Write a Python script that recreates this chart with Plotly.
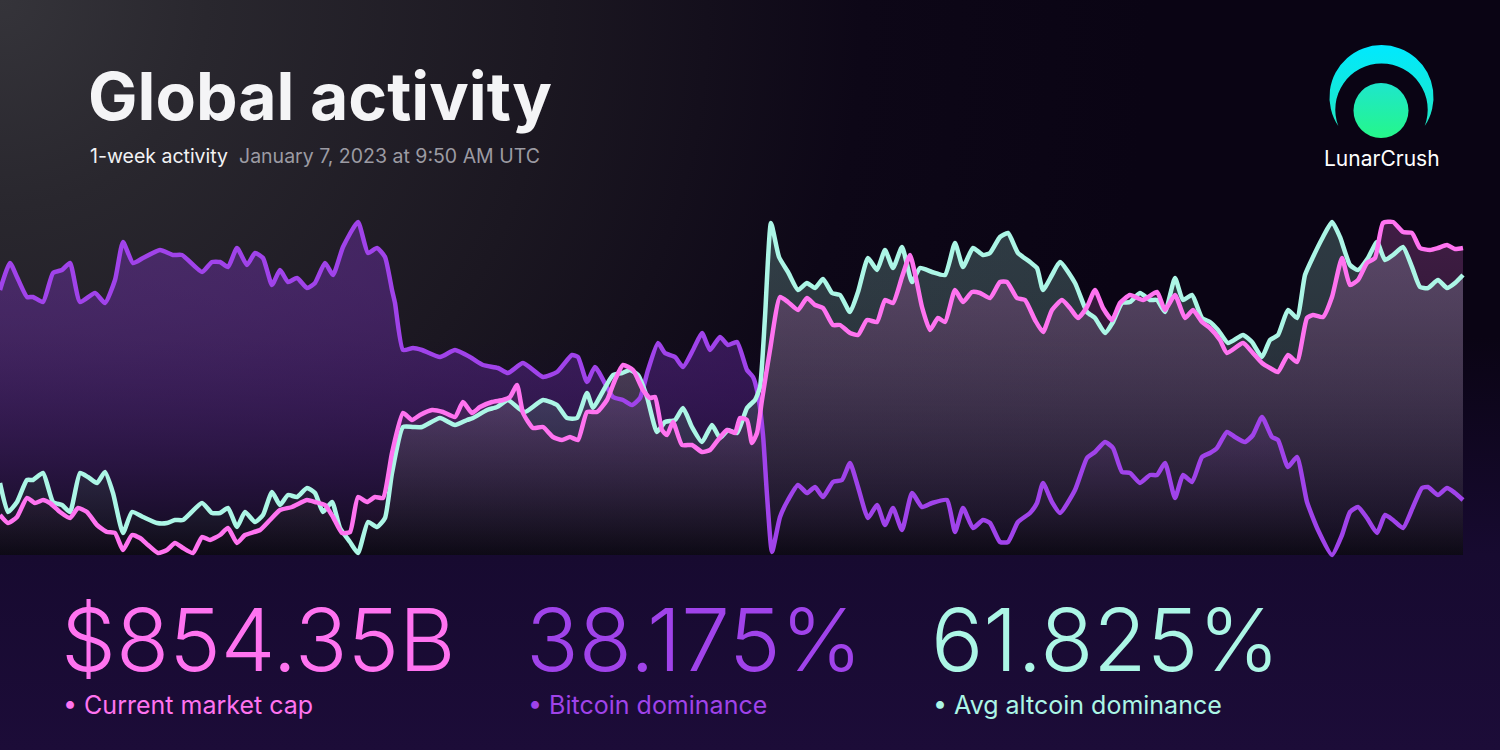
import base64
import plotly.graph_objects as go

# Series: t = time step along the week, v = normalized level
btc_t = [0, 10, 17, 27, 33, 43, 53, 62, 70, 80,
         95, 105, 115, 123, 133, 143, 160, 173, 182, 202,
         212, 220, 228, 237, 247, 255, 263, 272, 280, 288,
         297, 307, 315, 325, 333, 343, 358, 368, 377, 385,
         392, 395, 403, 413, 422, 440, 455, 470, 483, 498,
         508, 523, 543, 557, 572, 578, 587, 595, 613, 623,
         632, 640, 648, 658, 665, 675, 683, 693, 702, 710,
         720, 728, 737, 747, 753, 758, 763, 767, 772, 780,
         788, 798, 807, 815, 823, 833, 842, 850, 858, 868,
         877, 885, 893, 902, 912, 922, 932, 947, 955, 963,
         973, 983, 990, 1000, 1008, 1018, 1030, 1037, 1043, 1052,
         1060, 1075, 1087, 1095, 1105, 1113, 1122, 1130, 1140, 1150,
         1157, 1165, 1175, 1183, 1192, 1202, 1210, 1217, 1227, 1235,
         1245, 1253, 1262, 1272, 1278, 1288, 1297, 1307, 1318, 1332,
         1342, 1350, 1358, 1367, 1377, 1385, 1393, 1403, 1413, 1422,
         1428, 1438, 1447, 1455, 1463]
btc_v = [265, 292, 278, 258, 258, 253, 282, 285, 292, 253,
         262, 252, 275, 313, 292, 297, 305, 300, 300, 283,
         293, 293, 288, 307, 290, 302, 297, 270, 285, 273,
         277, 267, 272, 292, 280, 308, 333, 302, 307, 298,
         265, 252, 205, 207, 205, 198, 205, 198, 190, 187,
         182, 192, 178, 183, 200, 198, 173, 188, 158, 155,
         150, 157, 185, 212, 202, 198, 188, 205, 222, 205,
         218, 210, 213, 185, 178, 160, 120, 60, 3, 38,
         55, 70, 62, 68, 58, 73, 75, 92, 68, 37,
         50, 30, 47, 25, 62, 48, 52, 55, 23, 47,
         27, 35, 32, 13, 13, 33, 42, 52, 72, 53,
         42, 65, 97, 103, 113, 107, 83, 82, 72, 80,
         80, 92, 57, 80, 73, 98, 102, 107, 123, 118,
         113, 120, 138, 118, 115, 88, 98, 53, 25, 0,
         20, 43, 48, 37, 22, 40, 35, 27, 48, 67,
         68, 60, 67, 62, 55]

mcap_t = [0, 8, 17, 27, 35, 43, 50, 60, 70, 78,
          87, 97, 107, 115, 123, 132, 140, 148, 158, 167,
          175, 183, 193, 202, 210, 220, 228, 237, 245, 260,
          270, 280, 292, 307, 315, 325, 333, 342, 350, 358,
          367, 375, 383, 392, 403, 412, 420, 432, 443, 455,
          463, 472, 480, 492, 503, 510, 517, 523, 533, 543,
          553, 562, 570, 578, 587, 597, 607, 615, 623, 633,
          643, 650, 655, 662, 667, 673, 682, 692, 702, 710,
          718, 727, 735, 740, 747, 752, 757, 762, 770, 780,
          788, 798, 807, 815, 823, 833, 840, 850, 858, 867,
          877, 885, 893, 902, 910, 917, 922, 930, 938, 945,
          955, 963, 972, 980, 990, 1000, 1007, 1017, 1025, 1035,
          1043, 1052, 1062, 1070, 1078, 1087, 1095, 1103, 1112, 1120,
          1130, 1143, 1157, 1165, 1175, 1185, 1193, 1202, 1210, 1220,
          1227, 1243, 1252, 1262, 1270, 1278, 1288, 1297, 1307, 1313,
          1323, 1332, 1342, 1350, 1358, 1367, 1375, 1383, 1393, 1403,
          1412, 1420, 1430, 1438, 1447, 1455, 1463]
mcap_v = [40, 32, 38, 57, 52, 55, 52, 43, 37, 47,
          43, 30, 23, 22, 5, 20, 17, 10, 2, 5,
          12, 7, 2, 18, 15, 20, 27, 12, 20, 25,
          35, 45, 48, 55, 53, 50, 38, 22, 23, 58,
          53, 58, 57, 102, 142, 135, 140, 145, 143, 138,
          153, 142, 148, 153, 155, 158, 170, 142, 127, 128,
          118, 115, 118, 115, 143, 143, 155, 175, 190, 185,
          165, 157, 158, 125, 120, 133, 110, 110, 103, 105,
          115, 125, 122, 137, 135, 112, 122, 155, 205, 258,
          253, 245, 257, 250, 247, 230, 230, 222, 220, 235,
          233, 255, 252, 278, 300, 272, 248, 225, 237, 233,
          265, 253, 263, 262, 257, 273, 273, 257, 255, 235,
          223, 245, 255, 247, 237, 248, 265, 247, 235, 252,
          260, 255, 263, 245, 260, 237, 245, 233, 227, 215,
          202, 212, 203, 192, 187, 183, 200, 193, 237, 240,
          238, 258, 297, 270, 275, 292, 297, 332, 333, 323,
          322, 307, 305, 307, 310, 306, 307]

alt_t = [0, 8, 17, 27, 33, 43, 53, 62, 70, 80,
         88, 97, 105, 113, 123, 132, 143, 157, 167, 175,
         183, 202, 212, 220, 228, 237, 245, 255, 263, 272,
         280, 288, 297, 307, 315, 323, 332, 340, 350, 358,
         368, 377, 385, 392, 403, 413, 422, 440, 455, 467,
         473, 487, 497, 508, 517, 525, 543, 557, 567, 577,
         587, 593, 602, 613, 622, 630, 638, 647, 657, 665,
         675, 683, 692, 702, 712, 720, 728, 737, 747, 755,
         760, 765, 771, 779, 788, 798, 807, 815, 823, 832,
         840, 850, 858, 868, 877, 885, 893, 902, 912, 920,
         932, 945, 955, 963, 973, 983, 990, 1000, 1008, 1018,
         1030, 1037, 1043, 1052, 1060, 1075, 1087, 1095, 1105, 1113,
         1122, 1130, 1140, 1150, 1157, 1165, 1175, 1183, 1192, 1202,
         1210, 1218, 1228, 1243, 1252, 1262, 1270, 1278, 1288, 1297,
         1305, 1313, 1323, 1332, 1340, 1350, 1358, 1368, 1377, 1385,
         1393, 1403, 1412, 1420, 1428, 1438, 1447, 1455, 1463]
alt_v = [72, 43, 53, 75, 75, 82, 53, 50, 43, 82,
         78, 72, 83, 62, 22, 43, 38, 32, 32, 35,
         35, 52, 42, 42, 47, 28, 43, 33, 40, 63,
         50, 60, 58, 67, 62, 43, 53, 27, 13, 2,
         33, 28, 37, 82, 128, 128, 128, 137, 130, 135,
         137, 145, 148, 155, 148, 143, 155, 150, 137, 137,
         162, 147, 162, 180, 182, 185, 180, 158, 123, 133,
         135, 147, 128, 113, 130, 117, 125, 122, 147, 155,
         168, 238, 332, 298, 283, 265, 272, 267, 276, 262,
         260, 243, 263, 297, 285, 305, 287, 308, 273, 287,
         283, 280, 312, 288, 307, 300, 302, 318, 322, 302,
         293, 287, 265, 280, 293, 272, 243, 237, 222, 233,
         252, 253, 262, 255, 255, 243, 277, 255, 260, 237,
         233, 225, 212, 220, 213, 198, 215, 220, 245, 237,
         280, 298, 318, 333, 318, 290, 285, 297, 313, 295,
         300, 308, 288, 268, 267, 275, 267, 272, 280]

stat_values = ["$854.35B", "38.175%", "61.825%"]
stat_labels = ["Current market cap", "Bitcoin dominance", "Avg altcoin dominance"]

PINK = "#ff73f0"
PURPLE = "#a043ea"
CYAN = "#acf6e6"
FONT = "Inter, Roboto, sans-serif"

# background: grey glow top-left, deep purple at the bottom, logo
bg_svg = """<svg xmlns="http://www.w3.org/2000/svg" width="1500" height="750" viewBox="0 0 1500 750">
<defs>
<radialGradient id="bg" cx="0" cy="0" r="1150" gradientUnits="userSpaceOnUse">
<stop offset="0" stop-color="#35343a"/>
<stop offset="0.18" stop-color="#29272e"/>
<stop offset="0.48" stop-color="#1b1721"/>
<stop offset="0.75" stop-color="#0d0717"/>
<stop offset="1" stop-color="#0a0414"/>
</radialGradient>
<linearGradient id="low" x1="0" y1="0" x2="0" y2="750" gradientUnits="userSpaceOnUse">
<stop offset="0.45" stop-color="#170a30" stop-opacity="0"/>
<stop offset="0.74" stop-color="#170a30" stop-opacity="1"/>
<stop offset="1" stop-color="#1c0c38" stop-opacity="1"/>
</linearGradient>
<linearGradient id="arc" x1="0" y1="45" x2="0" y2="126" gradientUnits="userSpaceOnUse">
<stop offset="0" stop-color="#00e9ff"/><stop offset="1" stop-color="#1fe8c4"/>
</linearGradient>
<linearGradient id="ball" x1="0" y1="83" x2="0" y2="138" gradientUnits="userSpaceOnUse">
<stop offset="0" stop-color="#1ee6cc"/><stop offset="1" stop-color="#25f78a"/>
</linearGradient>
</defs>
<rect width="1500" height="750" fill="url(#bg)"/>
<rect width="1500" height="750" fill="url(#low)"/>
<path d="M1338.3 126 A52 52 0 1 1 1424.7 126 A46.2 46.2 0 1 0 1338.3 126 Z" fill="url(#arc)"/>
<circle cx="1381" cy="110.5" r="27.5" fill="url(#ball)"/>
</svg>"""
bg_uri = "data:image/svg+xml;base64," + base64.b64encode(bg_svg.encode()).decode()

fig = go.Figure()

series = [
    (btc_t, btc_v, PURPLE, "rgba(150,60,235,0.30)", "rgba(12,9,20,0.75)"),
    (alt_t, alt_v, CYAN, "rgba(170,245,228,0.22)", "rgba(12,10,18,0.45)"),
    (mcap_t, mcap_v, PINK, "rgba(255,120,240,0.22)", "rgba(12,10,18,0.30)"),
]

# fills first
for t, v, col, top, bottom in series:
    fig.add_trace(go.Scatter(
        x=t, y=v, mode="lines",
        line=dict(width=0, shape="spline", smoothing=0.5),
        fill="tozeroy",
        fillgradient=dict(type="vertical", colorscale=[[0, bottom], [1, top]], start=0, stop=335),
        hoverinfo="skip", showlegend=False
    ))

# then the lines on top
for t, v, col, top, bottom in series:
    fig.add_trace(go.Scatter(
        x=t, y=v, mode="lines",
        line=dict(width=4.5, color=col, shape="spline", smoothing=0.5),
        hoverinfo="skip", showlegend=False
    ))

annotations = [
    dict(text="<b>Global activity</b>", x=86 / 1500, y=1 - 96 / 750,
         font=dict(family=FONT, size=66, color="#f4f4f6")),
    dict(text="1-week activity  <span style='color:#9c9ba3'>January 7, 2023 at 9:50 AM UTC</span>",
         x=88 / 1500, y=1 - 156 / 750, font=dict(family=FONT, size=19.5, color="#f2f2f4")),
    dict(text="LunarCrush", x=1322 / 1500, y=1 - 159 / 750,
         font=dict(family=FONT, size=21, color="#ffffff")),
]

stat_x = [59, 524, 929]
stat_colors = [PINK, PURPLE, CYAN]
for sx, val, lab, col in zip(stat_x, stat_values, stat_labels, stat_colors):
    annotations.append(dict(text=val, x=sx / 1500, y=1 - 639 / 750, height=80,
                            font=dict(family=FONT, size=87, color=col, weight=300)))
    annotations.append(dict(text="\u2022 " + lab,
                            x=(sx + 2) / 1500, y=1 - 705 / 750,
                            font=dict(family=FONT, size=25, color=col)))

for a in annotations:
    a.update(xref="paper", yref="paper", xanchor="left", yanchor="middle", showarrow=False)

fig.update_layout(
    width=1500, height=750,
    margin=dict(l=0, r=0, t=0, b=0),
    paper_bgcolor="#0a0414",
    plot_bgcolor="rgba(0,0,0,0)",
    xaxis=dict(range=[0, 1500], domain=[0, 1], visible=False, fixedrange=True),
    yaxis=dict(range=[-195, 555], domain=[0, 1], visible=False, fixedrange=True),
    images=[dict(source=bg_uri, xref="paper", yref="paper", x=0, y=1, sizex=1, sizey=1,
                 xanchor="left", yanchor="top", sizing="stretch", layer="below")],
    annotations=annotations,
    showlegend=False,
)

fig.write_html("out.html", config={"displayModeBar": False},
               post_script="document.body.style.margin='0';document.body.style.overflow='hidden';")
